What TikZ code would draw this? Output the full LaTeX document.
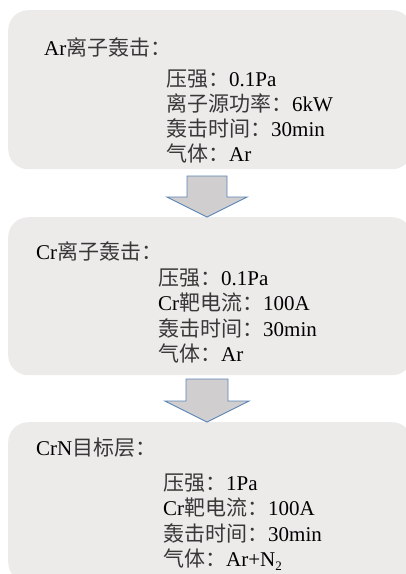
\documentclass[tikz,border=0pt]{standalone}
\usepackage{fontspec}
\setmainfont{Liberation Serif}
\newfontfamily\cjk{Noto Sans CJK SC}
\newcommand\zh[1]{{\cjk\color{black!78}#1}}
\begin{document}
\begin{tikzpicture}[x=1pt,y=-1pt,
  panel/.style={fill=panelgray,draw=none,rounded corners=20pt,anchor=north west,inner sep=0pt,minimum width=404pt},
  bigarrow/.style={fill=arrowgray,draw=arrowblue,line width=0.9pt,line join=miter},
  txt/.style={anchor=base west,inner sep=0pt,font=\fontsize{21}{25}\selectfont}]
\definecolor{panelgray}{HTML}{EDEBEA}
\definecolor{arrowgray}{HTML}{D0CECE}
\definecolor{arrowblue}{HTML}{5A83B5}
\useasboundingbox (0,0) rectangle (406,574);
\clip (0,0) rectangle (406,574);
% panels
\node[panel,minimum height=159pt] (b1) at (8,10) {};
\node[panel,minimum height=158pt] (b2) at (8,217) {};
\node[panel,minimum height=160pt] (b3) at (8,422) {};
% block arrows
\draw[bigarrow] (187,176) -- (227,176) -- (227,197) -- (247,197) -- (207,217) -- (167,197) -- (187,197) -- cycle;
\draw[bigarrow] (186,379) -- (228,379) -- (228,401) -- (249,401) -- (207,422) -- (165,401) -- (186,401) -- cycle;
% box 1
\node[txt] (t1) at (44,55) {Ar\zh{离子轰击：}};
\node[txt] (t1a) at (166,86) {\zh{压强：}0.1Pa};
\node[txt] (t1b) at (166,111) {\zh{离子源功率：}6kW};
\node[txt] (t1c) at (166,136) {\zh{轰击时间：}30min};
\node[txt] (t1d) at (166,161) {\zh{气体：}Ar};
% box 2
\node[txt] (t2) at (36,259) {Cr\zh{离子轰击：}};
\node[txt] (t2a) at (158,285) {\zh{压强：}0.1Pa};
\node[txt] (t2b) at (158,310) {Cr\zh{靶电流：}100A};
\node[txt] (t2c) at (158,336) {\zh{轰击时间：}30min};
\node[txt] (t2d) at (158,361) {\zh{气体：}Ar};
% box 3
\node[txt] (t3) at (36,455) {CrN\zh{目标层：}};
\node[txt] (t3a) at (163,490) {\zh{压强：}1Pa};
\node[txt] (t3b) at (163,515) {Cr\zh{靶电流：}100A};
\node[txt] (t3c) at (163,541) {\zh{轰击时间：}30min};
\node[txt] (t3d) at (163,566) {\zh{气体：}Ar+N\raisebox{-4pt}{\fontsize{13}{13}\selectfont 2}};
\end{tikzpicture}
\end{document}
